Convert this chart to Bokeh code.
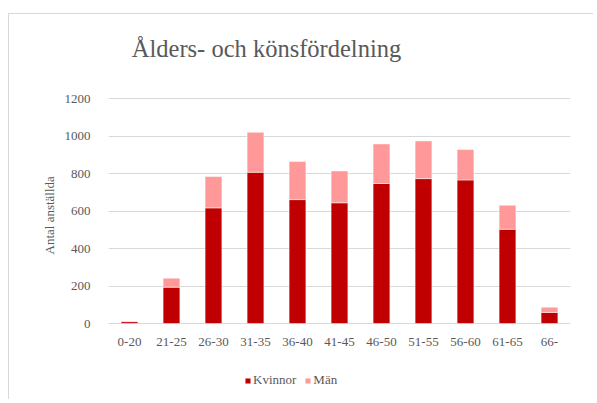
from bokeh.plotting import figure
from bokeh.models import ColumnDataSource, Legend, LegendItem, Title
from bokeh.embed import file_html
from bokeh.resources import INLINE
from bokeh.core.properties import value

ages = ["0-20", "21-25", "26-30", "31-35", "36-40", "41-45", "46-50", "51-55", "56-60", "61-65", "66-"]
kvinnor = [10, 194, 617, 807, 661, 644, 747, 773, 766, 503, 59]
man = [3, 48, 167, 213, 203, 170, 211, 201, 162, 128, 28]
y_ticks = [0, 200, 400, 600, 800, 1000, 1200]
title_text = "Ålders- och könsfördelning"

FONT = "Liberation Serif"
GRAY = "#595959"

src = ColumnDataSource(dict(age=ages, Kvinnor=kvinnor, Man=man, zero=[0] * len(ages)))

p = figure(x_range=ages, y_range=(-384, 1563), width=585, height=386,
           output_backend="svg", toolbar_location=None,
           min_border_left=99, min_border_right=24, min_border_top=16, min_border_bottom=5)
p.styles = {"border-left": "1px solid #d9d9d9", "border-top": "1px solid #d9d9d9",
            "margin-left": "8px", "margin-top": "13px"}

r = p.vbar_stack(["Kvinnor", "Man"], x="age", width=0.4, source=src,
                 color=["#C00000", "#FF9999"], line_color="white", line_width=0.5)

# category labels under the zero line
p.text(x="age", y="zero", text="age", source=src, y_offset=18,
       text_align="center", text_baseline="middle",
       text_font=value(FONT), text_font_size="13px", text_color=GRAY)

# chart title
tsrc = ColumnDataSource(dict(x=["31-35"], y=[1467], t=[title_text]))
p.text(x="x", y="y", text="t", source=tsrc, x_offset=11,
       text_align="center", text_baseline="alphabetic",
       text_font=value(FONT), text_font_size="24.5px", text_color=GRAY)

p.outline_line_color = None
p.xgrid.grid_line_color = None
p.xaxis.visible = False
p.ygrid.grid_line_color = "#d9d9d9"
p.ygrid.grid_line_width = 1
p.yaxis.ticker = y_ticks
p.yaxis.bounds = (0, 1200)
p.yaxis.axis_line_color = None
p.yaxis.major_tick_line_color = None
p.yaxis.minor_tick_line_color = None
p.yaxis.major_label_text_font = FONT
p.yaxis.major_label_text_font_size = "13px"
p.yaxis.major_label_text_color = GRAY
p.yaxis.major_label_standoff = 12

ylabel = Title(text="Antal anställda", text_font=FONT, text_font_size="13px",
               text_font_style="normal", text_color=GRAY, align="left", offset=141, standoff=9)
p.add_layout(ylabel, "left")

legend = Legend(items=[LegendItem(label="Kvinnor", renderers=[r[0]]),
                       LegendItem(label="Män", renderers=[r[1]])],
                orientation="horizontal", location=(136, 7),
                label_text_font=FONT, label_text_font_size="13px", label_text_color=GRAY,
                glyph_width=7, glyph_height=7, label_standoff=2, spacing=8, label_width=10,
                border_line_color=None, background_fill_alpha=0, padding=0, margin=0)
p.add_layout(legend, "center")

open("out.html", "w").write(file_html(p, INLINE))
